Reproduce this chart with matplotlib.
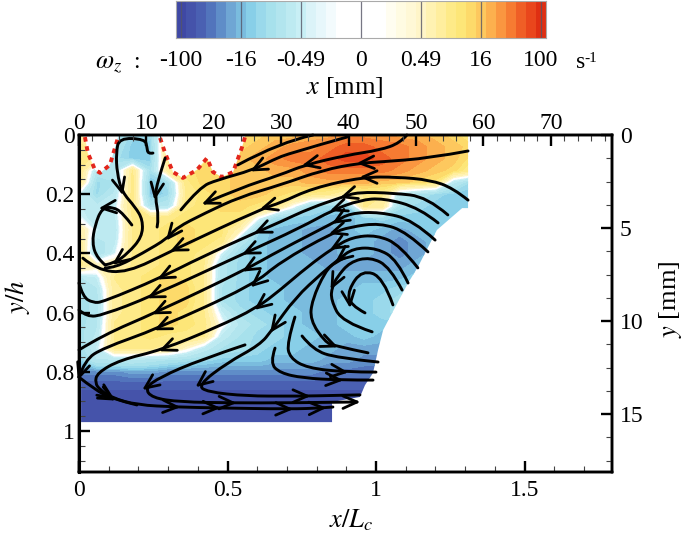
import numpy as np
import matplotlib
matplotlib.use("Agg")
import matplotlib.pyplot as plt
from matplotlib.patches import PathPatch, Polygon
from matplotlib.path import Path
from matplotlib.ticker import MultipleLocator

plt.rcParams['font.family'] = ['Liberation Serif', 'DejaVu Serif']
plt.rcParams['mathtext.fontset'] = 'stix'

# colour scale, one colour per level index -18..18
level_colors = [
    '#3f48a4', '#4553aa', '#4a60b2', '#5274bc', '#5f8dc8', '#6fa6d4', '#7abcde',
    '#88cfe8', '#9ad9eb', '#a7e1ec', '#b2e5ee', '#bdeaf1', '#c8eff5', '#dbf3f8',
    '#e7f7fb', '#f3fbfd', '#ffffff', '#ffffff', '#ffffff', '#ffffff', '#ffffff',
    '#fffdf0', '#fffbe2', '#fff8d6', '#fff5c8', '#fff2b2', '#ffee9e', '#feea88',
    '#fde678', '#fdda6a', '#fdc85e', '#fcb04e', '#fa9640', '#f67b32', '#ef5e26',
    '#e9461c', '#df2f12',
]
cbar_ticks = [-18, -12, -6, 0, 6, 12, 18]
cbar_labels = ['-100', '-16', '-0.49', '0', '0.49', '16', '100']

# vorticity, as level index, rows y/h = 0, 0.04, ...
grid_x = [0.06 * i for i in range(23)]
grid_y = [0.04 * i for i in range(26)]
vort = [
    [6, 5, -7, -10, -10, 8, 10, 10, 10, 11, 11, 12, 12, 13, 13, 14, 14, 14, 13, 13, 12, 11, 9],
    [9, 5, -8, -11, -11, 9, 10, 10, 10, 11, 12, 13, 14, 14, 15, 16, 16, 15, 15, 14, 13, 12, 11],
    [10, 6, -9, -11, -11, 8, 10, 10, 11, 12, 13, 14, 15, 15, 16, 17, 17, 16, 15, 14, 13, 12, 10],
    [9, -6, -6, 8, -9, 7, 10, 11, 11, 12, 12, 13, 13, 14, 15, 15, 15, 15, 14, 13, 12, 11, 8],
    [8, -10, -8, 9, -12, -9, 9, 11, 11, 12, 12, 12, 12, 13, 13, 13, 13, 12, 12, 11, 10, -5, -10],
    [-2, -10, -5, 9, -12, -10, 8, 10, 11, 12, 12, 11, 10, 9, 8, 5, 8, 8, -5, -8, -10, -11, -11],
    [-3, -5, -3, 9, -8, -6, 9, 10, 11, 11, 10, 9, 0, -9, -10, -11, 8, 7, -9, -10, -11, -11, -11],
    [-1, -6, -4, 8, 9, 9, 10, 10, 10, 10, 0, -9, -11, -11, -12, -12, -11, -10, -11, -11, -11, -11, -11],
    [6, -3, -5, 8, 9, 10, 11, 10, 10, 4, -10, -12, -12, -13, -13, -12, -11, -12, -13, -12, -11, -11, -11],
    [8, -7, -4, 8, 9, 10, 11, 10, 9, -6, -11, -12, -12, -13, -13, -12, -12, -13, -14, -13, -12, -11, -11],
    [9, -9, -2, 8, 9, 10, 10, 9, -2, -10, -11, -12, -12, -13, -13, -12, -12, -13, -14, -13, -12, -11, -11],
    [9, 3, 5, 8, 9, 10, 10, 8, -7, -10, -11, -12, -12, -12, -13, -13, -13, -13, -13, -12, -11, -11, -11],
    [-6, -3, 8, 9, 10, 11, 10, 8, -7, -10, -11, -12, -12, -12, -12, -12, -12, -12, -12, -11, -11, -11, -11],
    [-8, -6, 7, 9, 10, 11, 11, 8, -8, -10, -11, -11, -12, -12, -12, -12, -11, -11, -10, -10, -10, -10, -10],
    [-9, -7, 7, 9, 10, 11, 11, 8, -8, -10, -11, -11, -12, -12, -12, -11, -11, -10, -9, -9, -9, -9, -9],
    [-9, -7, 7, 9, 10, 11, 10, 8, -3, -9, -10, -11, -11, -12, -12, -11, -11, -10, -9, -9, -9, -9, -9],
    [-9, -6, 8, 9, 10, 11, 10, 9, 0, -6, -9, -10, -11, -12, -12, -11, -11, -11, -11, -11, -11, -11, -11],
    [-9, -5, 8, 9, 10, 9, 9, 8, -4, -8, -10, -10, -11, -11, -12, -12, -11, -12, -12, -12, -12, -12, -12],
    [-10, -3, 8, 8, 8, 7, 2, -4, -8, -9, -10, -11, -11, -12, -12, -13, -13, -13, -13, -13, -13, -13, -13],
    [-11, -6, -6, -6, -7, -8, -9, -10, -11, -11, -11, -12, -12, -12, -13, -13, -14, -14, -14, -14, -14, -14, -14],
    [-14, -14, -14, -13, -13, -14, -14, -14, -14, -14, -14, -14, -14, -14, -15, -15, -15, -15, -15, -15, -15, -15, -15],
    [-16] * 23,
    [-17] * 23,
    [-17] * 23,
    [-17] * 23,
    [-17] * 23,
]

# outline of the measured region (x/Lc, y/h)
scallop_1_x = [0.020, 0.030, 0.054, 0.071, 0.104, 0.131]
scallop_1_y = [0.007, 0.061, 0.118, 0.128, 0.101, 0.010]
scallop_2_x = [0.273, 0.290, 0.316, 0.350, 0.397, 0.431, 0.451, 0.481, 0.519, 0.549, 0.559]
scallop_2_y = [0.010, 0.061, 0.125, 0.145, 0.118, 0.078, 0.125, 0.142, 0.125, 0.041, 0.007]
edge_x = [1.31, 1.31, 1.29, 1.205, 1.141, 1.108, 1.047, 1.024, 1.007, 0.990, 0.963, 0.946, 0.852, 0.852, 0.007]
edge_y = [0.0, 0.247, 0.247, 0.321, 0.446, 0.5, 0.615, 0.659, 0.726, 0.804, 0.845, 0.885, 0.902, 0.97, 0.97]

# streamlines, points in flow direction, with chevrons at the listed points
line_01 = [(.249, .061), (.232, .064), (.229, .041), (.222, .014), (.135, .010), (.125, .061), (.128, .128),
           (.145, .193), (.189, .243), (.215, .287), (.212, .345), (.165, .399), (.121, .432), (.088, .439)]
line_02 = [(.178, .304), (.148, .264), (.114, .243), (.077, .247), (.054, .304), (.044, .365), (.061, .416), (.088, .439)]
line_03 = [(.290, .078), (.264, .159), (.256, .209), (.269, .277), (.263, .311)]
line_04 = [(.788, .0), (.677, .024), (.535, .101)]
line_05 = [(.902, .007), (.710, .061), (.653, .084), (.586, .118), (.465, .152), (.407, .176), (.343, .253)]
line_06 = [(1.104, 0), (1.081, .027), (1.013, .051), (.902, .068), (.761, .101), (.677, .135), (.542, .179), (.424, .230)]
line_07 = [(1.310, .054), (1.182, .078), (1.013, .091), (.946, .095), (.822, .118), (.677, .169), (.542, .209),
           (.424, .264), (.327, .314), (.300, .348), (.215, .399), (.121, .449), (.088, .449)]
line_08 = [(1.310, .220), (1.259, .179), (1.182, .152), (1.071, .142), (.956, .142), (.788, .179), (.677, .230),
           (.620, .247), (.316, .389), (.162, .466), (.061, .456), (.013, .416)]
line_09 = [(1.242, .270), (1.172, .209), (1.057, .196), (.939, .193), (.889, .209), (.778, .247), (.677, .294),
           (.599, .328), (.407, .415), (.273, .483), (.081, .564), (.047, .567), (.013, .547), (.0, .500)]
line_10 = [(1.209, .297), (1.148, .247), (1.024, .213), (.946, .220), (.855, .253), (.744, .314), (.559, .399),
           (.239, .547), (.081, .608), (.027, .615), (.0, .591)]
line_11 = [(1.199, .355), (1.125, .287), (1.013, .260), (.912, .264), (.862, .294), (.677, .389), (.559, .456),
           (.256, .601), (.081, .676), (.0, .726)]
line_12 = [(1.175, .395), (1.104, .328), (1.013, .297), (.912, .311), (.852, .331), (.677, .429), (.586, .507),
           (.263, .655), (.081, .720), (.020, .760), (.0, .818)]
line_13 = [(1.141, .449), (1.081, .372), (1.003, .338), (.919, .345), (.855, .382), (.768, .446), (.677, .524),
           (.599, .584), (.465, .649), (.279, .726), (.138, .760), (.061, .804), (.054, .838), (.071, .861),
           (.111, .888), (.195, .912), (.330, .919), (.465, .922), (.710, .926), (.822, .922), (.855, .919)]
line_14 = [(1.108, .500), (1.071, .422), (1.003, .382), (.923, .382), (.872, .422), (.822, .463), (.727, .551),
           (.650, .659), (.609, .709), (.498, .770), (.401, .845), (.431, .868), (.566, .882), (.710, .882),
           (.768, .882), (.946, .878)]
line_15 = [(1.088, .524), (1.047, .446), (.980, .412), (.912, .429), (.869, .480), (.852, .513), (.848, .557),
           (.886, .632), (.987, .665)]
line_16 = [(.896, .415), (.862, .429), (.828, .463), (.785, .557), (.778, .625), (.828, .699), (.862, .713), (.973, .736)]
line_17 = [(1.057, .574), (1.024, .480), (.953, .456), (.906, .524), (.912, .574), (.963, .601)]
line_18 = [(.660, .720), (.643, .770), (.677, .804), (.754, .821), (.879, .828), (.990, .828)]
line_19 = [(.727, .615), (.700, .703), (.710, .753), (.768, .787), (.896, .801), (1.0, .801)]
line_20 = [(.751, .679), (.788, .726), (.869, .753), (1.007, .767)]
line_21 = [(.559, .709), (.407, .760), (.273, .818), (.222, .855), (.246, .888), (.340, .902), (.519, .905), (.710, .905), (.936, .902)]
line_22 = [(.0, .818), (.054, .861), (.114, .892), (.195, .912)]

streamlines = [line_01, line_02, line_03, line_04, line_05, line_06, line_07, line_08, line_09, line_10, line_11,
               line_12, line_13, line_14, line_15, line_16, line_17, line_18, line_19, line_20, line_21, line_22]
chevrons = [[7, 12], [3], [2], [], [3], [4, 7], [3, 9], [4, 7, 8], [4, 7, 9], [4, 6, 7], [4, 6, 7], [4, 6, 7, 10],
            [4, 7, 9, 14, 16, 17, 18, 19], [4, 7, 10, 14], [5], [6], [4], [4], [4], [], [3, 6, 8], [2]]


def squeeze(i):
    # pale levels get a narrow band, the coarse grid would smear them otherwise
    a = abs(i)
    if a <= 6:
        v = a / 3
    elif a <= 9:
        v = 2 + (a - 6) * 7 / 3
    else:
        v = a
    return np.sign(i) * v


def draw_stream(ax, pts):
    # quadratic curve through the midpoints so the line comes out smooth
    pts = np.array(pts, dtype=float)
    verts = [pts[0]]
    codes = [Path.MOVETO]
    for i in range(1, len(pts) - 1):
        end = pts[i + 1] if i == len(pts) - 2 else (pts[i] + pts[i + 1]) / 2
        verts += [pts[i], end]
        codes += [Path.CURVE3, Path.CURVE3]
    ax.add_patch(PathPatch(Path(verts, codes), fill=False, ec='k', lw=2.1, capstyle='round', zorder=4, clip_on=False))


def draw_chevron(ax, tip, prev, size=0.052, angle=24):
    d = np.array(prev, dtype=float) - np.array(tip, dtype=float)
    d = d / np.hypot(*d) * size
    for a in (-angle, angle):
        r = np.radians(a)
        barb = np.array([d[0] * np.cos(r) - d[1] * np.sin(r), d[0] * np.sin(r) + d[1] * np.cos(r)])
        ax.plot([tip[0], tip[0] + barb[0]], [tip[1], tip[1] + barb[1]], color='k', lw=2.0,
                solid_capstyle='round', zorder=4, clip_on=False)


def style_ticks(axis):
    axis.tick_params(which='major', direction='in', length=8, width=1.7, labelsize=17)
    axis.tick_params(which='minor', direction='in', length=4.5, width=0.8, color='#444444')
    for s in axis.spines.values():
        s.set_linewidth(1.7)


def main():
    fig = plt.figure(figsize=(6.85, 5.38), dpi=100)
    ax = fig.add_axes([79 / 685, 1 - 472 / 538, (612 - 79) / 685, (472 - 135) / 538])

    levels = [squeeze(i) for i in np.arange(-18.5, 19.5, 1)]
    cf = ax.contourf(grid_x, grid_y, np.array(vort), levels=levels, colors=level_colors, zorder=1)

    outline_x = [0.007] + scallop_1_x + [0.131, 0.273] + scallop_2_x + [0.559] + edge_x
    outline_y = [0.0] + scallop_1_y + [0.0, 0.0] + scallop_2_y + [0.0] + edge_y
    clip = Polygon(np.column_stack([outline_x, outline_y]), closed=True, transform=ax.transData, fc='none', ec='none')
    ax.add_patch(clip)
    cf.set_clip_path(clip)

    for sx, sy in [(scallop_1_x, scallop_1_y), (scallop_2_x, scallop_2_y)]:
        ax.plot(sx, sy, color='#e3261c', lw=2.8, ls=(0, (1.2, 1.2)), zorder=3)

    for pts, idx in zip(streamlines, chevrons):
        draw_stream(ax, pts)
        for i in idx:
            draw_chevron(ax, pts[i], pts[i - 1])

    ax.set_xlim(0, 533 / 297)
    ax.set_ylim(337 / 296, 0)
    ax.set_xticks([0, 0.5, 1, 1.5])
    ax.set_xticklabels(['0', '0.5', '1', '1.5'])
    ax.xaxis.set_minor_locator(MultipleLocator(0.1))
    ax.set_yticks([0, 0.2, 0.4, 0.6, 0.8, 1])
    ax.set_yticklabels(['0', '0.2', '0.4', '0.6', '0.8', '1'])
    ax.yaxis.set_minor_locator(MultipleLocator(0.05))
    style_ticks(ax)
    ax.tick_params(axis='x', which='major', pad=5.5)
    ax.tick_params(axis='y', which='major', pad=3)
    ax.spines['left'].set_linewidth(2.2)

    # the same frame in millimetres on top and on the right
    top = ax.twiny()
    top.set_xlim(0, 533 / 6.74)
    top.set_xticks(range(0, 80, 10))
    top.xaxis.set_minor_locator(MultipleLocator(2))
    style_ticks(top)
    top.tick_params(which='major', pad=0.5)
    right = ax.twinx()
    right.set_ylim(337 / 18.6, 0)
    right.set_yticks([0, 5, 10, 15])
    right.yaxis.set_minor_locator(MultipleLocator(1.25))
    style_ticks(right)
    right.tick_params(which='major', pad=5.5)

    # colour bar strip
    cax = fig.add_axes([176 / 685, 1 - 38 / 538, 370 / 685, 37 / 538])
    cax.pcolormesh(np.arange(-18.5, 19.5, 1), [0, 1], np.arange(37).reshape(1, -1),
                   cmap=matplotlib.colors.ListedColormap(level_colors), vmin=-0.5, vmax=36.5)
    for t in cbar_ticks:
        cax.axvline(t, color='#555566', lw=0.9, alpha=0.8)
    cax.set_xticks(cbar_ticks)
    cax.set_xticklabels(cbar_labels)
    cax.set_yticks([])
    cax.tick_params(axis='x', length=0, labelsize=17, pad=9)
    for s in cax.spines.values():
        s.set_color('#aaaaaa')
        s.set_linewidth(0.8)

    fig.text(95 / 685, 1 - 64 / 538, r'$\omega_z$', fontsize=19, va='center')
    fig.text(133 / 685, 1 - 63 / 538, ':', fontsize=17, va='center')
    fig.text(576 / 685, 1 - 63 / 538, 's', fontsize=17, va='center')
    fig.text(584 / 685, 1 - 58 / 538, '-1', fontsize=11, va='center')
    fig.text(345 / 685, 1 - 88 / 538, r'$x$ [mm]', fontsize=19, ha='center', va='center')
    fig.text(351 / 685, 1 - 520 / 538, r'$x/L_c$', fontsize=19, ha='center', va='center')
    fig.text(17 / 685, 1 - 297 / 538, r'$y/h$', fontsize=19, rotation=90, ha='center', va='center')
    fig.text(670 / 685, 1 - 299 / 538, r'$y$ [mm]', fontsize=19, rotation=90, ha='center', va='center')

    fig.savefig('out.png', dpi=100)


if __name__ == "__main__":
    main()
